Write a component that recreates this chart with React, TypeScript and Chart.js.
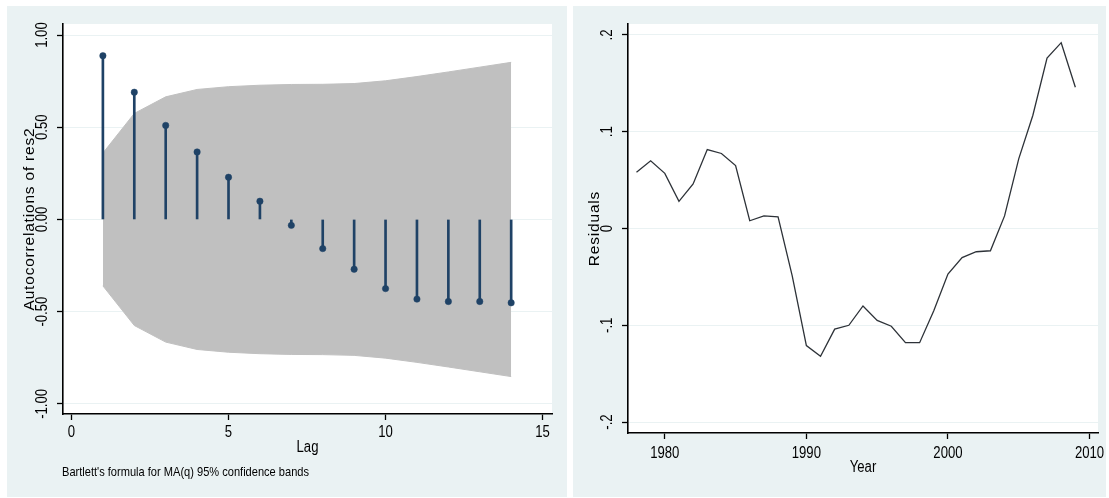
import React, { useEffect, useRef } from "react";
import { Chart, registerables } from "chart.js";

Chart.register(...registerables);

// ---------- Left panel: autocorrelations ----------
const lags = [1, 2, 3, 4, 5, 6, 7, 8, 9, 10, 11, 12, 13, 14];
const acfValues = [0.888, 0.69, 0.51, 0.366, 0.229, 0.099, -0.032, -0.158, -0.27, -0.375, -0.432, -0.445, -0.445, -0.452];
const bandHalfWidth = [0.36, 0.575, 0.665, 0.705, 0.72, 0.728, 0.732, 0.733, 0.737, 0.752, 0.775, 0.8, 0.826, 0.852];
const acfYTicks = [-1, -0.5, 0, 0.5, 1];
const acfYTickLabels = ["-1.00", "-0.50", "0.00", "0.50", "1.00"];
const acfXTicks = [0, 5, 10, 15];
const acfXTickLabels = ["0", "5", "10", "15"];
const acfYTitle = "Autocorrelations of res2";
const acfXTitle = "Lag";
const acfNote = "Bartlett's formula for MA(q) 95% confidence bands";

// ---------- Right panel: residuals ----------
const years = [1978, 1979, 1980, 1981, 1982, 1983, 1984, 1985, 1986, 1987, 1988, 1989, 1990, 1991, 1992, 1993,
  1994, 1995, 1996, 1997, 1998, 1999, 2000, 2001, 2002, 2003, 2004, 2005, 2006, 2007, 2008, 2009];
const residuals = [0.058, 0.07, 0.057, 0.028, 0.046, 0.0815, 0.0775, 0.065, 0.008, 0.013, 0.012, -0.049, -0.121,
  -0.132, -0.104, -0.1, -0.08, -0.095, -0.101, -0.118, -0.118, -0.085, -0.047, -0.03, -0.024, -0.023, 0.013,
  0.072, 0.117, 0.176, 0.192, 0.146];
const resYTicks = [-0.2, -0.1, 0, 0.1, 0.2];
const resYTickLabels = ["-.2", "-.1", "0", ".1", ".2"];
const resXTicks = [1980, 1990, 2000, 2010];
const resXTickLabels = ["1980", "1990", "2000", "2010"];
const resYTitle = "Residuals";
const resXTitle = "Year";

const BG = "#eaf2f3";
const NAVY = "#1f4266";
const FONT = '"Liberation Sans", Arial, sans-serif';
const CONDENSE = 0.82;

type TextCfg = {
  yTicks: number[];
  yLabels: string[];
  xTicks: number[];
  xLabels: string[];
  yTitle: string;
  xTitle: string;
  yTickX: number;
  yTitleX: number;
  xTickY: number;
  xTitleY: number;
  note?: string;
  noteX?: number;
  noteY?: number;
};

function drawText(ctx: any, text: string, x: number, y: number, rotate: boolean, sx: number) {
  ctx.save();
  ctx.translate(x, y);
  if (rotate) ctx.rotate(-Math.PI / 2);
  ctx.scale(sx, 1);
  ctx.fillText(text, 0, 0);
  ctx.restore();
}

function textPlugin(cfg: TextCfg) {
  return {
    id: "stataText",
    beforeDraw(chart: any) {
      const { ctx, chartArea: a, width, height } = chart;
      ctx.save();
      ctx.fillStyle = BG;
      ctx.fillRect(0, 0, width, height);
      ctx.fillStyle = "#ffffff";
      ctx.fillRect(a.left, a.top, a.right - a.left, a.bottom - a.top);
      ctx.restore();
    },
    afterDraw(chart: any) {
      const ctx = chart.ctx;
      const xs = chart.scales.x;
      const ys = chart.scales.y;
      const a = chart.chartArea;
      ctx.save();
      ctx.fillStyle = "#000";
      ctx.textAlign = "center";
      ctx.textBaseline = "middle";
      ctx.font = `16px ${FONT}`;
      cfg.yTicks.forEach((v, i) => {
        drawText(ctx, cfg.yLabels[i], cfg.yTickX, ys.getPixelForValue(v), true, CONDENSE);
      });
      cfg.xTicks.forEach((v, i) => {
        drawText(ctx, cfg.xLabels[i], xs.getPixelForValue(v), cfg.xTickY, false, CONDENSE);
      });
      ctx.font = `15.5px ${FONT}`;
      (ctx as any).letterSpacing = "0.8px";
      drawText(ctx, cfg.yTitle, cfg.yTitleX, (a.top + a.bottom) / 2, true, 1);
      (ctx as any).letterSpacing = "0px";
      ctx.font = `16px ${FONT}`;
      drawText(ctx, cfg.xTitle, (a.left + a.right) / 2, cfg.xTitleY, false, CONDENSE);
      if (cfg.note) {
        ctx.font = `13.5px ${FONT}`;
        ctx.textAlign = "left";
        drawText(ctx, cfg.note, cfg.noteX as number, cfg.noteY as number, false, CONDENSE);
      }
      ctx.restore();
    },
  };
}

function axisX(min: number, max: number, ticks: number[], height: number) {
  return {
    type: "linear",
    min,
    max,
    offset: false,
    afterBuildTicks: (s: any) => {
      s.ticks = ticks.map((v) => ({ value: v }));
    },
    afterFit: (s: any) => {
      s.height = height;
    },
    ticks: { display: false },
    grid: {
      offset: false,
      drawOnChartArea: false,
      drawTicks: true,
      tickLength: 6,
      tickColor: "#000",
      tickWidth: 1.3,
    },
    border: { display: true, color: "#000", width: 1.6 },
  };
}

function axisY(min: number, max: number, ticks: number[], width: number) {
  return {
    type: "linear",
    min,
    max,
    afterBuildTicks: (s: any) => {
      s.ticks = ticks.map((v) => ({ value: v }));
    },
    afterFit: (s: any) => {
      s.width = width;
    },
    ticks: { display: false },
    grid: {
      color: BG,
      lineWidth: 1,
      drawTicks: true,
      tickLength: 6,
      tickColor: "#000",
      tickWidth: 1.3,
    },
    border: { display: true, color: "#000", width: 1.6 },
  };
}

function acfConfig(): any {
  return {
    type: "bar",
    data: {
      datasets: [
        {
          type: "line",
          data: lags.map((l, i) => ({ x: l, y: acfValues[i] })),
          showLine: false,
          pointRadius: 3.2,
          pointBackgroundColor: NAVY,
          pointBorderColor: NAVY,
          pointBorderWidth: 0.5,
        },
        {
          type: "bar",
          data: lags.map((l, i) => ({ x: l, y: [0, acfValues[i]] })),
          backgroundColor: NAVY,
          borderWidth: 0,
          barThickness: 2,
        },
        {
          type: "line",
          data: lags.map((l, i) => ({ x: l, y: bandHalfWidth[i] })),
          borderColor: "#c0c0c0",
          borderWidth: 1,
          backgroundColor: "#c0c0c0",
          pointRadius: 0,
          fill: "+1",
          tension: 0,
        },
        {
          type: "line",
          data: lags.map((l, i) => ({ x: l, y: -bandHalfWidth[i] })),
          borderColor: "#c0c0c0",
          borderWidth: 1,
          pointRadius: 0,
          fill: false,
          tension: 0,
        },
      ],
    },
    options: {
      responsive: false,
      animation: false,
      layout: { padding: { top: 18, right: 15, left: 0, bottom: 0 } },
      plugins: { legend: { display: false }, tooltip: { enabled: false } },
      scales: {
        x: axisX(-0.27, 15.3, acfXTicks, 83),
        y: axisY(-1.055, 1.06, acfYTicks, 56),
      },
    },
    plugins: [
      textPlugin({
        yTicks: acfYTicks,
        yLabels: acfYTickLabels,
        xTicks: acfXTicks,
        xLabels: acfXTickLabels,
        yTitle: acfYTitle,
        xTitle: acfXTitle,
        yTickX: 36,
        yTitleX: 23,
        xTickY: 427,
        xTitleY: 442,
        note: acfNote,
        noteX: 55,
        noteY: 466,
      }),
    ],
  };
}

function resConfig(): any {
  return {
    type: "line",
    data: {
      datasets: [
        {
          data: years.map((y, i) => ({ x: y, y: residuals[i] })),
          borderColor: "#2d3238",
          borderWidth: 1.3,
          pointRadius: 0,
          tension: 0,
          fill: false,
        },
      ],
    },
    options: {
      responsive: false,
      animation: false,
      layout: { padding: { top: 18, right: 8, left: 0, bottom: 0 } },
      plugins: { legend: { display: false }, tooltip: { enabled: false } },
      scales: {
        x: axisX(1977.4, 2010.6, resXTicks, 64),
        y: axisY(-0.2113, 0.2113, resYTicks, 55),
      },
    },
    plugins: [
      textPlugin({
        yTicks: resYTicks,
        yLabels: resYTickLabels,
        xTicks: resXTicks,
        xLabels: resXTickLabels,
        yTitle: resYTitle,
        xTitle: resXTitle,
        yTickX: 35,
        yTitleX: 22,
        xTickY: 448,
        xTitleY: 462,
      }),
    ],
  };
}

export default function App() {
  const leftRef = useRef<HTMLCanvasElement>(null);
  const rightRef = useRef<HTMLCanvasElement>(null);

  useEffect(() => {
    const c1 = new Chart(leftRef.current as HTMLCanvasElement, acfConfig());
    const c2 = new Chart(rightRef.current as HTMLCanvasElement, resConfig());
    return () => {
      c1.destroy();
      c2.destroy();
    };
  }, []);

  return (
    <div style={{ position: "fixed", left: 0, top: 0, width: 1109, height: 498, background: "#fff", overflow: "hidden" }}>
      <div style={{ position: "absolute", left: 7, top: 6, width: 560, height: 491, background: BG }}>
        <canvas ref={leftRef} width={560} height={491} style={{ display: "block", width: 560, height: 491 }} />
      </div>
      <div style={{ position: "absolute", left: 573, top: 6, width: 533, height: 491, background: BG }}>
        <canvas ref={rightRef} width={533} height={491} style={{ display: "block", width: 533, height: 491 }} />
      </div>
    </div>
  );
}
